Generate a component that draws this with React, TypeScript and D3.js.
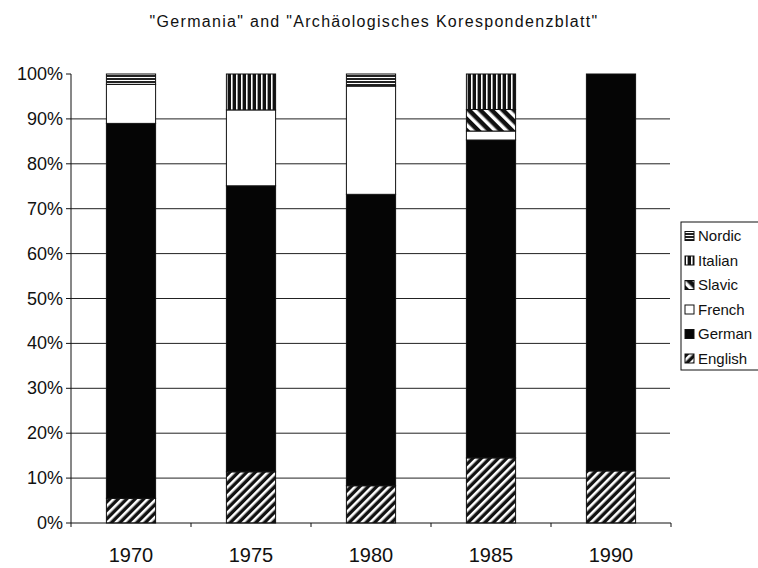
import React from "react";
import { scaleBand, scaleLinear, stack } from "d3";

const years = ["1970", "1975", "1980", "1985", "1990"];
const english = [5.5, 11.4, 8.3, 14.5, 11.6];
const german = [83.5, 63.7, 64.9, 70.8, 88.4];
const french = [8.7, 16.9, 24.1, 2.0, 0];
const slavic = [0, 0, 0, 4.8, 0];
const italian = [0, 8.0, 0, 7.9, 0];
const nordic = [2.3, 0, 2.7, 0, 0];
const yTicks = [0, 10, 20, 30, 40, 50, 60, 70, 80, 90, 100];

const keys = ["English", "German", "French", "Slavic", "Italian", "Nordic"];
const fills: Record<string, string> = {
  English: "url(#pEnglish)",
  German: "#050505",
  French: "#ffffff",
  Slavic: "url(#pSlavic)",
  Italian: "url(#pItalian)",
  Nordic: "url(#pNordic)",
};

const rows = years.map((y, i) => ({
  year: y,
  English: english[i],
  German: german[i],
  French: french[i],
  Slavic: slavic[i],
  Italian: italian[i],
  Nordic: nordic[i],
}));

const font = "'Liberation Sans', Arial, sans-serif";

export default function App() {
  const left = 71, right = 671, top = 74, bottom = 523;
  const x = scaleBand().domain(years).range([left, right]).paddingInner(0.59).paddingOuter(0.295);
  const y = scaleLinear().domain([0, 100]).range([bottom, top]);
  const series = stack<any>().keys(keys)(rows);
  const step = x.step();
  const legendKeys = [...keys].reverse();

  return (
    <svg width={758} height={568} style={{ position: "absolute", left: 0, top: 0, background: "#fff" }}>
      <defs>
        <pattern id="pEnglish" width={6} height={6} patternUnits="userSpaceOnUse" patternTransform="rotate(45)">
          <rect width={6} height={6} fill="#111" />
          <rect width={2.6} height={6} fill="#fff" />
        </pattern>
        <pattern id="pSlavic" width={8} height={8} patternUnits="userSpaceOnUse" patternTransform="rotate(-45)">
          <rect width={8} height={8} fill="#111" />
          <rect width={3.5} height={8} fill="#fff" />
        </pattern>
        <pattern id="pItalian" width={5} height={5} patternUnits="userSpaceOnUse">
          <rect width={5} height={5} fill="#111" />
          <rect x={1} width={1.6} height={5} fill="#fff" />
        </pattern>
        <pattern id="pNordic" width={4} height={3} patternUnits="userSpaceOnUse">
          <rect width={4} height={3} fill="#222" />
          <rect y={2} width={4} height={1} fill="#fff" />
        </pattern>
      </defs>

      <text x={374} y={27} textAnchor="middle" fontFamily={font} fontSize={16} letterSpacing={1.3} fill="#111">
        "Germania" and "Archäologisches Korespondenzblatt"
      </text>

      {yTicks.filter((t) => t > 0 && t < 100).map((t) => (
        <line key={t} x1={left} x2={right - 1} y1={y(t)} y2={y(t)} stroke="#222" strokeWidth={1} />
      ))}

      {series.map((s) => (
        <g key={s.key}>
          {s.map((d, i) =>
            d[1] - d[0] > 0 ? (
              <rect
                key={i}
                x={x(years[i])}
                y={y(d[1])}
                width={x.bandwidth()}
                height={y(d[0]) - y(d[1])}
                fill={fills[s.key]}
                stroke="#111"
                strokeWidth={1}
              />
            ) : null
          )}
        </g>
      ))}

      <line x1={left} x2={left} y1={top} y2={bottom} stroke="#111" />
      <line x1={left} x2={right} y1={bottom} y2={bottom} stroke="#111" />
      {yTicks.map((t) => (
        <g key={t}>
          <line x1={left - 5} x2={left} y1={y(t)} y2={y(t)} stroke="#111" />
          <text x={63} y={y(t) + 6} textAnchor="end" fontFamily={font} fontSize={18} fill="#111">
            {t}%
          </text>
        </g>
      ))}
      {[...years.map((yr) => x(yr)! - step * 0.295), right].map((bx, i) => (
        <line key={i} x1={bx} x2={bx} y1={bottom} y2={bottom + 4} stroke="#111" />
      ))}
      {years.map((yr) => (
        <text key={yr} x={x(yr)! + x.bandwidth() / 2} y={562} textAnchor="middle" fontFamily={font} fontSize={20} fill="#111">
          {yr}
        </text>
      ))}

      <rect x={681} y={222} width={90} height={148} fill="#fff" stroke="#111" />
      {legendKeys.map((k, i) => (
        <g key={k} transform={`translate(685,${236 + i * 24.5})`}>
          <rect x={0} y={-4.5} width={9} height={9} fill={fills[k]} stroke="#111" />
          <text x={13} y={5} fontFamily={font} fontSize={15} fill="#111">
            {k}
          </text>
        </g>
      ))}
    </svg>
  );
}
